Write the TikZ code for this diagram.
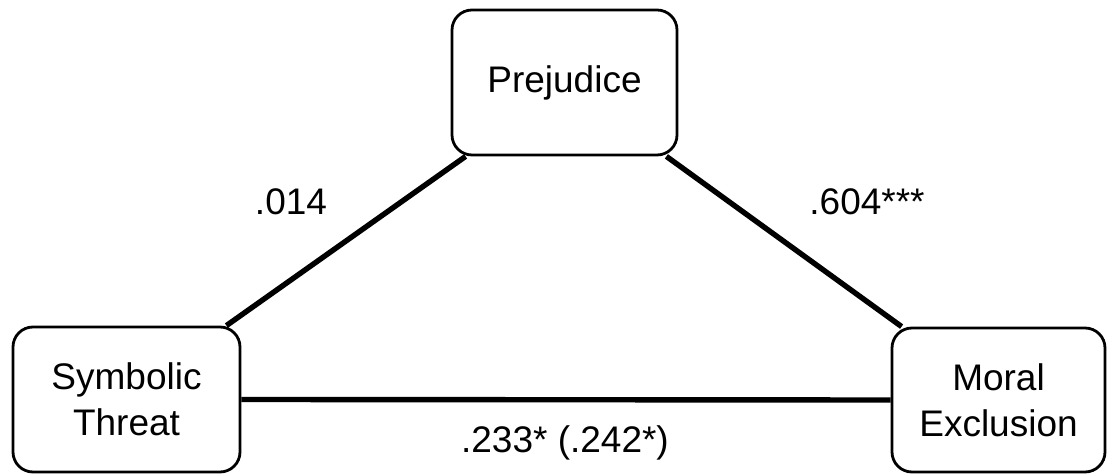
\documentclass[tikz,border=0pt]{standalone}
\usepackage{fontspec}
\setmainfont{Liberation Sans}
\usetikzlibrary{backgrounds}

\begin{document}
\begin{tikzpicture}[
  x=0.5pt, y=-0.5pt,
  font=\fontsize{18.5}{23}\selectfont,
  varbox/.style={rectangle, draw=black, fill=white, line width=1.4pt, rounded corners=10pt, align=center, inner sep=0pt},
  pathline/.style={draw=black, line width=2.7pt},
  coeflabel/.style={anchor=base, inner sep=0pt}
]
  \useasboundingbox (0,0) rectangle (1107,474);
  \node[varbox, minimum width=112.5pt, minimum height=72.5pt] (prej) at (564.5,82.5) {Prejudice};
  \node[varbox, minimum width=113.5pt, minimum height=72.5pt] (sym) at (126.5,399.5) {Symbolic\\Threat};
  \node[varbox, minimum width=106.5pt, minimum height=72pt] (moral) at (998.5,400) {Moral\\Exclusion};
  \begin{scope}[on background layer]
    \draw[pathline] ([xshift=-7.5pt]sym.north east) -- ([xshift=7.5pt]prej.south west);
    \draw[pathline] ([xshift=-6pt]prej.south east) -- ([xshift=5.5pt]moral.north west);
    \draw[pathline] (sym.east) -- (moral.west);
  \end{scope}
  \node[coeflabel] (c1) at (291,215) {.014};
  \node[coeflabel] (c2) at (867,215) {.604***};
  \node[coeflabel] (c3) at (565,453) {.233* (.242*)};
\end{tikzpicture}
\end{document}
